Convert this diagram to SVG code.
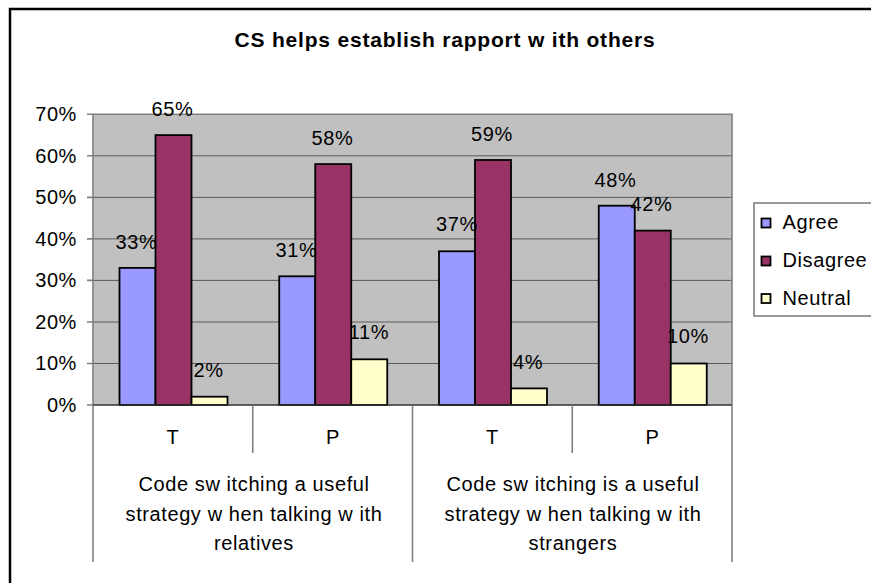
<svg xmlns="http://www.w3.org/2000/svg" width="871" height="583" viewBox="0 0 871 583">
<style>
text{font-family:"Liberation Sans",Arial,sans-serif;fill:#000;}
.t{font-size:20px;letter-spacing:0.6px;}
.m{text-anchor:middle;}
.e{text-anchor:end;}
.title{font-size:21px;font-weight:bold;letter-spacing:0.8px;text-anchor:middle;}
.grid{stroke:#5a5a5a;stroke-width:1;}
.axis{stroke:#808080;stroke-width:1.6;fill:none;}
.bar{stroke:#000;stroke-width:1.8;}
.ag{fill:#9999FF;}
.di{fill:#993366;}
.ne{fill:#FFFFCC;}
</style>
<rect width="871" height="583" fill="#fff"/>
<path d="M10,600 V9 H880" fill="none" stroke="#000" stroke-width="2.5"/>
<g id="title"><text class="title" x="445" y="47">CS helps establish rapport w ith others</text></g>
<g id="plot">
<rect x="93" y="114.3" width="639" height="290.7" fill="#C0C0C0"/>
<g class="grid">
<line x1="93" y1="155.8" x2="732" y2="155.8"/>
<line x1="93" y1="197.4" x2="732" y2="197.4"/>
<line x1="93" y1="238.9" x2="732" y2="238.9"/>
<line x1="93" y1="280.4" x2="732" y2="280.4"/>
<line x1="93" y1="322" x2="732" y2="322"/>
<line x1="93" y1="363.5" x2="732" y2="363.5"/>
</g>
<path class="axis" d="M93,114.3 H732 V405"/>
</g>
<g id="y-axis">
<path class="axis" d="M93,114.3 V405 M87,114.3 H93 M87,155.8 H93 M87,197.4 H93 M87,238.9 H93 M87,280.4 H93 M87,322 H93 M87,363.5 H93 M87,405 H93"/>
<text class="t e" x="77" y="121">70%</text>
<text class="t e" x="77" y="162.5">60%</text>
<text class="t e" x="77" y="204">50%</text>
<text class="t e" x="77" y="245.5">40%</text>
<text class="t e" x="77" y="287">30%</text>
<text class="t e" x="77" y="328.5">20%</text>
<text class="t e" x="77" y="370">10%</text>
<text class="t e" x="77" y="412">0%</text>
</g>
<g id="series-agree">
<rect class="bar ag" x="119.5" y="267.9" width="36" height="137.1"/>
<rect class="bar ag" x="279.25" y="276.3" width="36" height="128.7"/>
<rect class="bar ag" x="439" y="251.3" width="36" height="153.7"/>
<rect class="bar ag" x="598.75" y="205.7" width="36" height="199.3"/>
</g>
<g id="series-disagree">
<rect class="bar di" x="155.5" y="135.1" width="36" height="269.9"/>
<rect class="bar di" x="315.25" y="164.1" width="36" height="240.9"/>
<rect class="bar di" x="475" y="160" width="36" height="245"/>
<rect class="bar di" x="634.75" y="230.6" width="36" height="174.4"/>
</g>
<g id="series-neutral">
<rect class="bar ne" x="191.5" y="396.7" width="36" height="8.3"/>
<rect class="bar ne" x="351.25" y="359.3" width="36" height="45.7"/>
<rect class="bar ne" x="511" y="388.4" width="36" height="16.6"/>
<rect class="bar ne" x="670.75" y="363.5" width="36" height="41.5"/>
</g>
<g id="data-labels">
<text class="t m" x="136.5" y="248.5">33%</text>
<text class="t m" x="172.5" y="115.5">65%</text>
<text class="t m" x="208.5" y="377">2%</text>
<text class="t m" x="296.5" y="256.5">31%</text>
<text class="t m" x="332.5" y="145">58%</text>
<text class="t m" x="369" y="338.5">11%</text>
<text class="t m" x="457" y="231">37%</text>
<text class="t m" x="492" y="141">59%</text>
<text class="t m" x="528" y="368.5">4%</text>
<text class="t m" x="615.5" y="186.5">48%</text>
<text class="t m" x="651.5" y="211">42%</text>
<text class="t m" x="688" y="343">10%</text>
</g>
<g id="x-axis">
<line x1="93" y1="405" x2="732" y2="405" stroke="#303030" stroke-width="1.6"/>
<path class="axis" d="M93,405 V562 M252.75,405 V453 M412.5,405 V562 M572.25,405 V453 M732,405 V562"/>
<text class="t m" x="173" y="443.5">T</text>
<text class="t m" x="333" y="443.5">P</text>
<text class="t m" x="492.5" y="443.5">T</text>
<text class="t m" x="652.5" y="443.5">P</text>
<text class="t m" x="254" y="491">Code sw itching a useful</text>
<text class="t m" x="254" y="520.5">strategy w hen talking w ith</text>
<text class="t m" x="254" y="550">relatives</text>
<text class="t m" x="573" y="491">Code sw itching is a useful</text>
<text class="t m" x="573" y="520.5">strategy w hen talking w ith</text>
<text class="t m" x="573" y="550">strangers</text>
</g>
<g id="legend">
<rect x="754" y="203" width="130" height="113" fill="#fff" stroke="#808080" stroke-width="1.6"/>
<rect class="bar ag" x="761.5" y="218.5" width="9" height="9"/>
<rect class="bar di" x="761.5" y="256.5" width="9" height="9"/>
<rect class="bar ne" x="761.5" y="294" width="9" height="9"/>
<text class="t" x="782.5" y="229">Agree</text>
<text class="t" x="782.5" y="267">Disagree</text>
<text class="t" x="782.5" y="304.5">Neutral</text>
</g>
</svg>
